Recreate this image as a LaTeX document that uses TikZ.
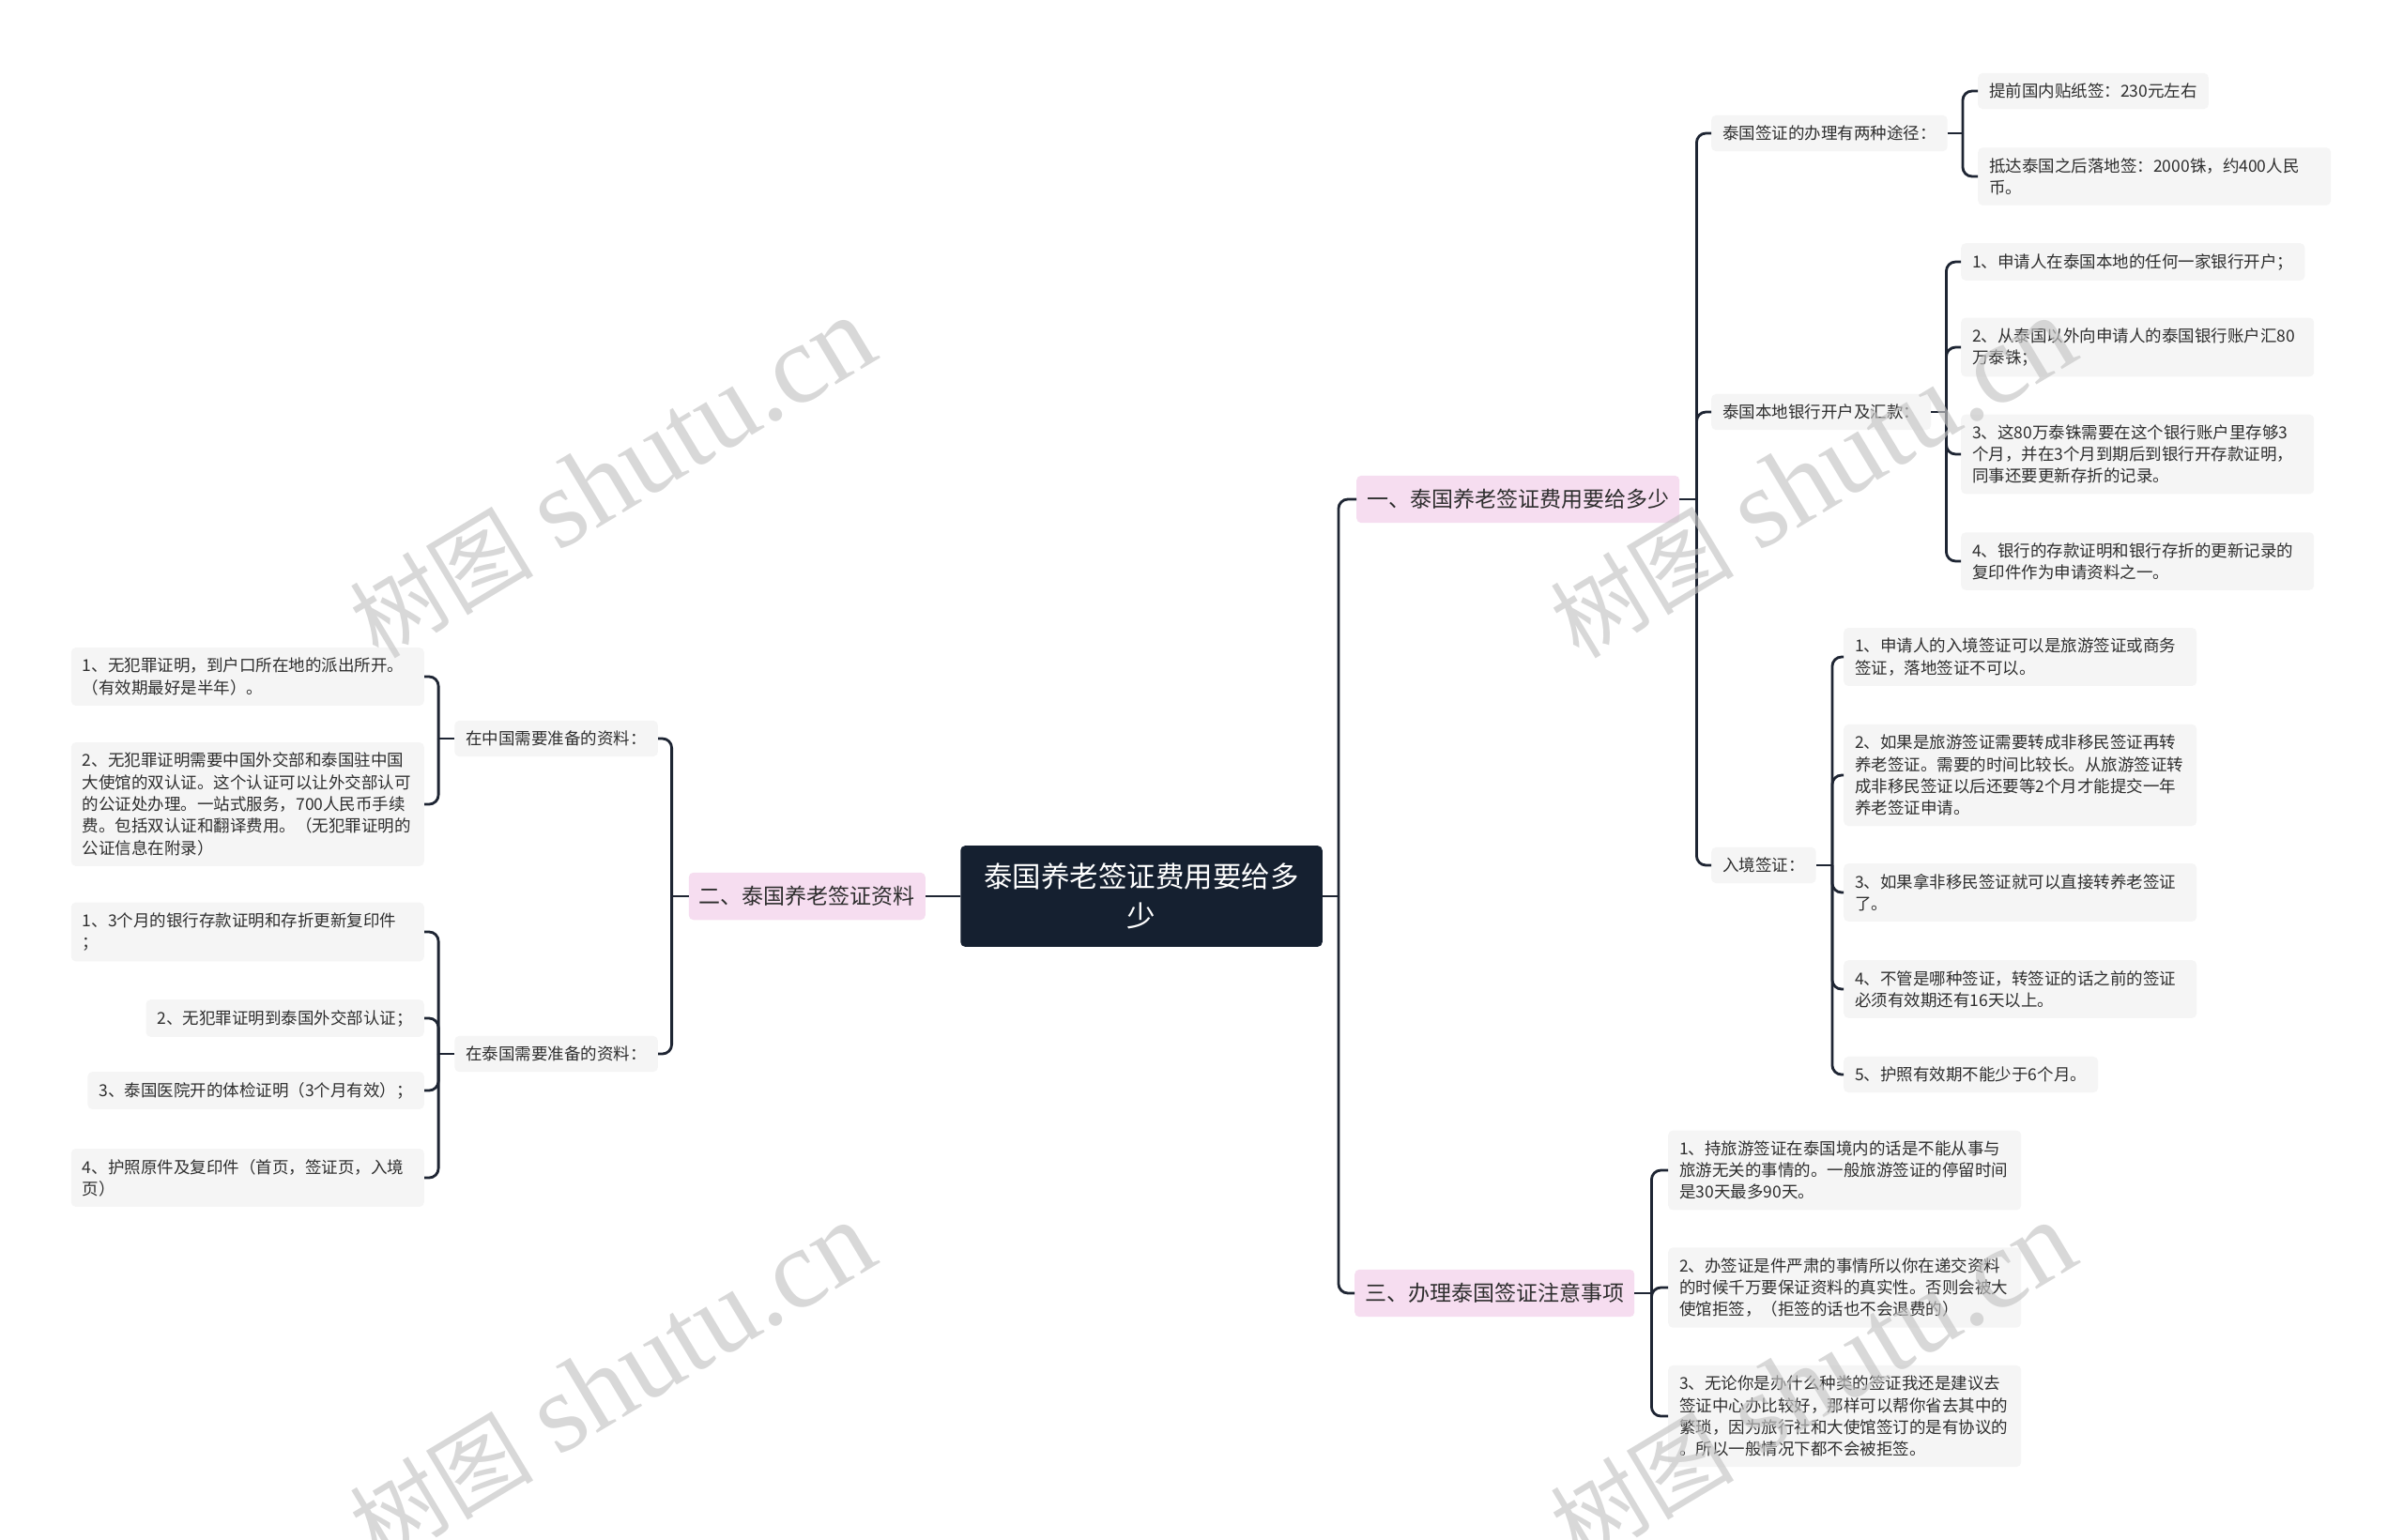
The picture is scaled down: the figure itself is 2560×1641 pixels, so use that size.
\documentclass[tikz,border=0pt]{standalone}
\usepackage{fontspec}
\setmainfont{Noto Sans CJK SC}
\newfontfamily\wmfont{Liberation Serif}
\usepackage{xcolor}
\usepackage{tikz}
\usetikzlibrary{positioning}
\definecolor{rootbg}{HTML}{152030}
\definecolor{pinkbg}{HTML}{F6DDF0}
\definecolor{leafbg}{HTML}{F5F5F5}
\definecolor{linec}{HTML}{1E2533}
\definecolor{txtc}{HTML}{2E2E2E}
\definecolor{wmc}{HTML}{C4C4C4}

\begin{document}
\begin{tikzpicture}[x=1pt,y=-1pt,
        root/.style={rectangle,rounded corners=5pt,fill=rootbg,text=white,align=center,font=\fontsize{30.5}{41.5}\selectfont,inner xsep=25pt,inner ysep=19pt},
        topic/.style={rectangle,rounded corners=5pt,fill=pinkbg,text=txtc,font=\fontsize{23}{30}\selectfont,inner xsep=11pt,inner ysep=14.5pt},
        sub/.style={rectangle,rounded corners=5pt,fill=leafbg,text=txtc,font=\fontsize{17.5}{23.3}\selectfont,inner xsep=12pt,inner ysep=11pt},
        leaf/.style={sub,align=left},
        wide/.style={leaf,text width=352pt},
        conn/.style={draw=linec,line width=2.8pt,rounded corners=10pt},
        wm/.style={text=wmc,opacity=0.65,rotate=31,font=\fontsize{120}{120}\selectfont}]
        \fill[white] (0,0) rectangle (2560,1641);
        \useasboundingbox (0,0) rectangle (2560,1641);
        \node[root] (root) at (1216,955) {泰国养老签证费用要给多\\少};
        \node[topic,anchor=west] (fee) at (1445,532) {一、泰国养老签证费用要给多少};
        \node[topic,anchor=east] (docs) at (986,955) {二、泰国养老签证资料};
        \node[topic,anchor=west] (note) at (1443,1378) {三、办理泰国签证注意事项};
        \node[sub,anchor=west] (ways) at (1823,142) {泰国签证的办理有两种途径：};
        \node[sub,anchor=west] (bank) at (1823,439) {泰国本地银行开户及汇款：};
        \node[sub,anchor=west] (entry) at (1823,922) {入境签证：};
        \node[leaf,anchor=west] (ways1) at (2107,97) {提前国内贴纸签：230元左右};
        \node[wide,anchor=west] (ways2) at (2107,188) {抵达泰国之后落地签：2000铢，约400人民\\币。};
        \node[leaf,anchor=west] (bank1) at (2089,279) {1、申请人在泰国本地的任何一家银行开户；};
        \node[wide,anchor=west] (bank2) at (2089,370) {2、从泰国以外向申请人的泰国银行账户汇80\\万泰铢；};
        \node[wide,anchor=west] (bank3) at (2089,484) {3、这80万泰铢需要在这个银行账户里存够3\\个月，并在3个月到期后到银行开存款证明，\\同事还要更新存折的记录。};
        \node[wide,anchor=west] (bank4) at (2089,598) {4、银行的存款证明和银行存折的更新记录的\\复印件作为申请资料之一。};
        \node[wide,anchor=west] (entry1) at (1964,700) {1、申请人的入境签证可以是旅游签证或商务\\签证，落地签证不可以。};
        \node[wide,anchor=west] (entry2) at (1964,826) {2、如果是旅游签证需要转成非移民签证再转\\养老签证。需要的时间比较长。从旅游签证转\\成非移民签证以后还要等2个月才能提交一年\\养老签证申请。};
        \node[wide,anchor=west] (entry3) at (1964,951) {3、如果拿非移民签证就可以直接转养老签证\\了。};
        \node[wide,anchor=west] (entry4) at (1964,1054) {4、不管是哪种签证，转签证的话之前的签证\\必须有效期还有16天以上。};
        \node[leaf,anchor=west] (entry5) at (1964,1145) {5、护照有效期不能少于6个月。};
        \node[wide,anchor=west] (note1) at (1777,1247) {1、持旅游签证在泰国境内的话是不能从事与\\旅游无关的事情的。一般旅游签证的停留时间\\是30天最多90天。};
        \node[wide,anchor=west] (note2) at (1777,1372) {2、办签证是件严肃的事情所以你在递交资料\\的时候千万要保证资料的真实性。否则会被大\\使馆拒签，（拒签的话也不会退费的）};
        \node[wide,anchor=west] (note3) at (1777,1509) {3、无论你是办什么种类的签证我还是建议去\\签证中心办比较好，那样可以帮你省去其中的\\繁琐，因为旅行社和大使馆签订的是有协议的\\。所以一般情况下都不会被拒签。};
        \node[sub,anchor=east] (china) at (701,787) {在中国需要准备的资料：};
        \node[sub,anchor=east] (thai) at (701,1123) {在泰国需要准备的资料：};
        \node[wide,anchor=east] (china1) at (452,721) {1、无犯罪证明，到户口所在地的派出所开。\\（有效期最好是半年）。};
        \node[wide,anchor=east] (china2) at (452,857) {2、无犯罪证明需要中国外交部和泰国驻中国\\大使馆的双认证。这个认证可以让外交部认可\\的公证处办理。一站式服务，700人民币手续\\费。包括双认证和翻译费用。（无犯罪证明的\\公证信息在附录）};
        \node[wide,anchor=east] (thai1) at (452,993) {1、3个月的银行存款证明和存折更新复印件\\；};
        \node[leaf,anchor=east] (thai2) at (452,1085) {2、无犯罪证明到泰国外交部认证；};
        \node[leaf,anchor=east] (thai3) at (452,1162) {3、泰国医院开的体检证明（3个月有效）；};
        \node[wide,anchor=east] (thai4) at (452,1255) {4、护照原件及复印件（首页，签证页，入境\\页）};
        \draw[conn] (root.east) -- ++(17,0) coordinate (rootj);
        \draw[conn] (rootj) |- (fee.west);
        \draw[conn] (rootj) |- (note.west);
        \draw[conn] (root.west) -- (docs.east);
        \draw[conn] (fee.east) -- ++(18,0) coordinate (feej);
        \draw[conn] (feej) |- (ways.west);
        \draw[conn] (feej) |- (bank.west);
        \draw[conn] (feej) |- (entry.west);
        \draw[conn] (ways.east) -- ++(16,0) coordinate (waysj);
        \draw[conn] (waysj) |- (ways1.west);
        \draw[conn] (waysj) |- (ways2.west);
        \draw[conn] (bank.east) -- ++(16,0) coordinate (bankj);
        \foreach \i in {1,...,4}
            \draw[conn] (bankj) |- (bank\i.west);
        \draw[conn] (entry.east) -- ++(17,0) coordinate (entryj);
        \foreach \i in {1,...,5}
            \draw[conn] (entryj) |- (entry\i.west);
        \draw[conn] (note.east) -- ++(18,0) coordinate (notej);
        \foreach \i in {1,2,3}
            \draw[conn] (notej) |- (note\i.west);
        \draw[conn] (docs.west) -- ++(-18,0) coordinate (docsj);
        \draw[conn] (docsj) |- (china.east);
        \draw[conn] (docsj) |- (thai.east);
        \draw[conn] (china.west) -- ++(-17,0) coordinate (chinaj);
        \draw[conn] (chinaj) |- (china1.east);
        \draw[conn] (chinaj) |- (china2.east);
        \draw[conn] (thai.west) -- ++(-17,0) coordinate (thaij);
        \foreach \i in {1,...,4}
            \draw[conn] (thaij) |- (thai\i.east);
        \node[wm] (wm1) at (652,510) {{\fontsize{98}{98}\selectfont 树图} {\wmfont shutu.cn}};
        \node[wm] (wm2) at (1931,510) {{\fontsize{98}{98}\selectfont 树图} {\wmfont shutu.cn}};
        \node[wm] (wm3) at (652,1474) {{\fontsize{98}{98}\selectfont 树图} {\wmfont shutu.cn}};
        \node[wm] (wm4) at (1931,1474) {{\fontsize{98}{98}\selectfont 树图} {\wmfont shutu.cn}};
\end{tikzpicture}
\end{document}
